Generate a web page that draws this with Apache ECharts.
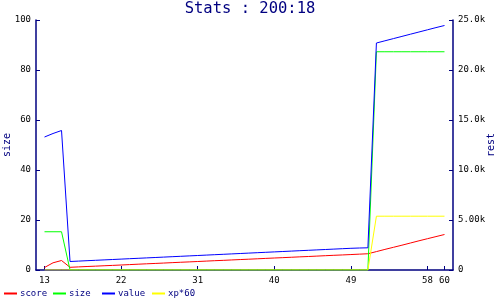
<!DOCTYPE html>
<html>
<head>
<meta charset="utf-8">
<script src="https://cdn.jsdelivr.net/npm/echarts@6/dist/echarts.min.js"></script>
<style>html,body{margin:0;padding:0;background:#fff}#c{width:500px;height:300px}</style>
</head>
<body>
<div id="c"></div>
<script>
var titleText = 'Stats : 200:18';
var xValues = [13,14,15,16,17,18,19,20,21,22,23,24,25,26,27,28,29,30,31,32,33,34,35,36,37,38,39,40,41,42,43,44,45,46,47,48,49,50,51,52,53,54,55,56,57,58,59,60];
var xTicks = [13,22,31,40,49,58,60];
var leftTicks = [0,20,40,60,80,100];
var rightTicks = [0,5000,10000,15000,20000,25000];
var rightTickLabels = ['0','5.00k','10.0k','15.0k','20.0k','25.0k'];
var seriesNames = ['score','size','value','xp*60'];
var seriesColors = ['#ff0000','#00ff00','#0000ff','#ffff00'];
var seriesAxis = [1,0,1,1];

var score = [250,720,950,270,310,350,385,425,460,500,540,580,620,655,695,735,775,810,850,890,930,965,1005,1045,1080,1120,1160,1200,1235,1275,1315,1350,1390,1430,1470,1505,1545,1585,1625,1840,2060,2270,2480,2700,2920,3130,3340,3550];
var size = [15.3,15.3,15.3,0,0,0,0,0,0,0,0,0,0,0,0,0,0,0,0,0,0,0,0,0,0,0,0,0,0,0,0,0,0,0,0,0,0,0,0,87.3,87.3,87.3,87.3,87.3,87.3,87.3,87.3,87.3];
var value = [13300,13650,13950,850,890,930,970,1010,1050,1090,1130,1170,1210,1250,1290,1330,1370,1410,1450,1490,1530,1570,1610,1650,1690,1730,1770,1810,1850,1890,1930,1970,2010,2050,2090,2130,2170,2200,2220,22700,22920,23140,23360,23580,23800,24020,24240,24450];
var xp60 = [0,0,0,0,0,0,0,0,0,0,0,0,0,0,0,0,0,0,0,0,0,0,0,0,0,0,0,0,0,0,0,0,0,0,0,0,0,0,0,5380,5380,5380,5380,5380,5380,5380,5380,5380];
var seriesValues = [score,size,value,xp60];

var navy = '#000080';
var mono = 'DejaVu Sans Mono';

function pairs(vals){ return xValues.map(function(x,i){ return [x, vals[i]]; }); }

var series = seriesNames.map(function(n,i){
  return {
    name: n, type: 'line', yAxisIndex: seriesAxis[i],
    data: pairs(seriesValues[i]), symbol: 'none', showSymbol: false,
    lineStyle: {color: seriesColors[i], width: 1},
    itemStyle: {color: seriesColors[i]},
    z: 2 + i
  };
});

var legendLefts = [4,53,102,152];
var legends = seriesNames.map(function(n,i){
  return {
    data: [n], left: legendLefts[i], top: 289, icon: 'rect',
    itemWidth: 13, itemHeight: 2, itemGap: 3, padding: 0,
    textStyle: {color: navy, fontFamily: mono, fontSize: 9, padding: [0,0,0,-2]},
    selectedMode: false
  };
});

var chart = echarts.init(document.getElementById('c'), null, {renderer: 'canvas'});
chart.setOption({
  animation: false,
  backgroundColor: '#ffffff',
  title: {text: titleText, left: 'center', top: 1, padding: 0,
    textStyle: {color: navy, fontFamily: mono, fontSize: 15.5, fontWeight: 'normal'}},
  legend: legends,
  grid: {left: 36, right: 47, top: 20, bottom: 30, containLabel: false, outerBoundsMode: 'none'},
  xAxis: {
    type: 'value', min: 12, max: 61,
    splitLine: {show: false},
    axisLine: {show: true, lineStyle: {color: navy, width: 1.5}},
    axisTick: {show: true, inside: true, length: 4, lineStyle: {color: navy}, customValues: xTicks},
    axisLabel: {color: '#000', fontFamily: mono, fontSize: 9, margin: 6, customValues: xTicks}
  },
  yAxis: [
    {type: 'value', min: 0, max: 100, position: 'left',
     name: 'size', nameLocation: 'middle', nameRotate: 90, nameGap: 24, nameMoveOverlap: false,
     nameTextStyle: {color: navy, fontFamily: mono, fontSize: 10},
     splitLine: {show: false},
     axisLine: {show: true, lineStyle: {color: navy, width: 1.5}},
     axisTick: {show: true, inside: true, length: 4, lineStyle: {color: navy}, customValues: leftTicks},
     axisLabel: {color: '#000', fontFamily: mono, fontSize: 9, margin: 5, customValues: leftTicks}},
    {type: 'value', min: 0, max: 25000, position: 'right',
     name: 'rest', nameLocation: 'middle', nameRotate: 90, nameGap: 33, nameMoveOverlap: false,
     nameTextStyle: {color: navy, fontFamily: mono, fontSize: 10},
     splitLine: {show: false},
     axisLine: {show: true, lineStyle: {color: navy, width: 1.5}},
     axisTick: {show: true, inside: true, length: 4, lineStyle: {color: navy}, customValues: rightTicks},
     axisLabel: {color: '#000', fontFamily: mono, fontSize: 9, margin: 5, customValues: rightTicks,
       formatter: function(v){ var i = rightTicks.indexOf(v); return i >= 0 ? rightTickLabels[i] : ''; }}}
  ],
  series: series
});
</script>
</body>
</html>
